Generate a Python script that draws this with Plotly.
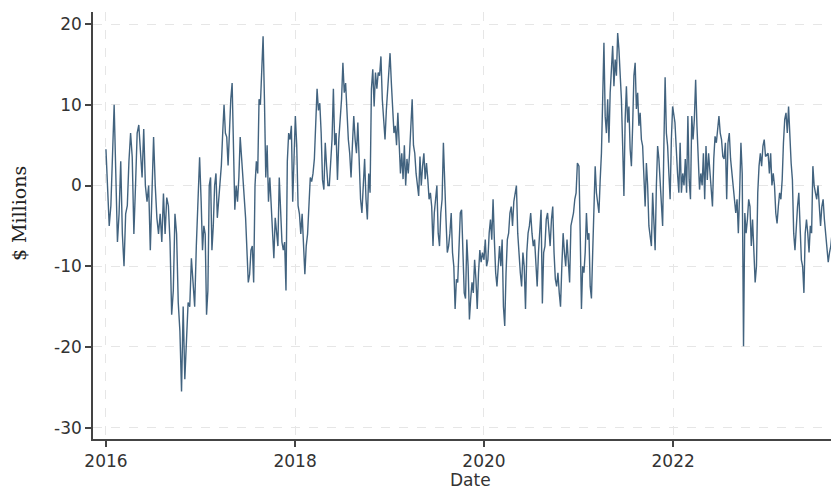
import plotly.graph_objects as go
import pandas as pd

# Values ($ Millions), one list per year
v2016 = [4.5, 0, -5, -2.5, 5, 10, 1.5, -7, -3.5, 3, -6, -10, -3.5, -2.5, 3, 6.5, 3.5, -6, 0, 6.5,
         7.5, 4.5, 1, 7, 0, -2, 0, -8, 1, 6, 0, -4, -6, -3.5, -7, -1, -6, -1.5, -2.5, -7,
         -16, -13, -3.5, -6, -14.5, -18, -25.5, -15, -24, -19, -14.5, -15, -9, -12, -15, -7.5, -1, 3.5]
v2017 = [-2, -8, -5, -6, -16, -13, 0, 1, -8, -5, 0, 1.5, -4, -2, 0, 2.5, 6.5, 10, 6.5, 6,
         2.5, 8, 10.7, 12.7, 5.7, -3, 0, -2, 1, 6, 3.5, 1, -2, -4, -8, -12, -11, -8, -7.5, -12,
         0, 3, 1.5, 10.7, 10, 15.6, 18.5, 10.7, 1, 5, -2, 1, -2, -6, -9, -4, -6, -7.5, 1, -3.5,
         -7, -8, -7, -13, 3, 6.5, 5.7, 7.4, -2, 3.5]
v2018 = [8.6, 5, -2.5, -3.5, -6, -3.5, -8, -11, -7.5, -6, -2.5, 1, 0.5, 1.5, 3.3, 7.4, 12, 9.3, 10.2, 6.5,
         0.7, -0.5, 5.3, 2.4, 0, 0, 3.3, 5.7, 12, 5, 6.5, 0.7, 5.7, 8.2, 10.7, 15.2, 11.5, 12.7, 9, 5.7,
         4, 1, 5, 8.6, 5.7, 4, 7.8, 3.2, -1.7, -3.4, 0, 3.3, -1.7, -4.2, 1.5, -0.9, 12, 14.4, 9.8, 14,
         12, 14, 13.6, 16, 10.7, 8.2, 5.7, 9.4, 12.3]
v2019 = [16.4, 12.7, 8.6, 6.5, 7.4, 5, 9, 5.7, 1.5, 4, 0.8, 5, 0, 3.3, 1.5, 4, 7.4, 10.7, 5, 4,
         1.5, 0, -1.3, 3.6, 0, 2.4, 4, 0.8, 2.8, 0.8, -1.7, -0.9, -2.6, -7.5, -3.4, -1.7, 0, -5.9, -7.5, -3.4,
         -1.7, 5.3, 1.5, -4.2, -8.3, -7.5, -5.9, -3.4, -8.3, -10, -15.3, -11.6, -12, -8.3, -3.4, -3, -8.3, -13.3, -14, -6.7,
         -10, -16.6, -14, -12, -13.3, -9.2, -11.6, -15.3, -10.8, -8, -9.5, -8.3]
v2020 = [-9.2, -6.7, -10, -9.2, -5.9, -4.2, -6.7, -1.7, -6.7, -10.8, -12.5, -9.2, -7.5, -10, -6.7, -15, -17.4, -10.8, -6.7, -5.9,
         -3.4, -2.6, -5, -2, -0.9, 0, -5.9, -9.2, -10.8, -12.5, -8.3, -10, -15.3, -8.3, -5.9, -5, -3.4, -5.9, -7.5, -6.7,
         -10, -12.5, -8.3, -5.9, -3, -14.6, -8.3, -7.5, -4.2, -3.4, -5.9, -7.5, -4.2, -2.6, -8.3, -11.6, -12.5, -10.8, -13.3, -15,
         -10, -5.9, -8.3, -10, -6.7, -9.2, -12, -5, -4.2, -3.4, -1.7, -0.9, 2.8]
v2021 = [2.4, -5.9, -15.3, -10, -10.8, -8.3, -3.4, -6.7, -5.9, -12.5, -14, -8.3, -3.4, 2.4, -0.9, -2.6, -3.4, 0.7, 4, 10.7,
         17.7, 8.6, 6.5, 10.7, 5.3, 11.5, 15.2, 17.3, 12.3, 15.6, 13.6, 18.9, 16.9, 14, 10.7, 4.9, -1.3, 8.2, 12.3, 7.8,
         9.8, 4.5, 2.4, 7.4, 13.6, 15.2, 9.5, 11.5, 7.4, 9, 5.7, 4.9, 0.7, -2.6, 2.8, 0, -5, -6.7, -7.5, -0.9,
         -5.9, -8, 0, 4.9, 3.3, 0, -3.4, -5, 4.9, 13.4, 6.5, 4.9, 1.5, -1.7, 5.7, 9.8]
v2022 = [7.8, 4, 1.5, -0.9, 5.3, -0.9, 1.5, 0, 3.3, -0.9, 8.6, 0.7, -1.7, 8.6, 5.7, 8.2, 13.1, 7.4, 2.4, -0.5,
         1.5, 0, 4, -1.7, 4.9, 0.7, 4, 2, 0, -2.6, 3.3, 6.1, 5.3, 7.4, 8.6, 6.5, 5.7, 3.6, 3.3, 5.3,
         -1.7, 5.3, 6.5, 3.3, 1.5, 0, -1.7, -3.4, -1.7, -5.9, -0.9, 5.3, 1.5, -19.9, -3.4, -5.9, -4.2, -1.7, -2.6, -7.5,
         -4.2, -8.3, -12, -10, -0.9, 2.4, 4, 2.4, 4.9, 5.7, 3.6]
v2023 = [4, 1.5, 4, 0, 1.5, 0, -3.4, -4.7, -2.6, -0.9, -1.7, 0.7, 5.3, 8.2, 9, 6.5, 9.8, 5.7, 2.8, 0.7,
         -5.9, -8, -5, -2.6, -0.9, -5, -9.2, -10, -13.3, -5.9, -4.2, -5.9, -8.3, -5, -5.9, 2.4, 0, -0.9, -1.7, 0,
         -3.4, -5, -2.6, -1.7, -4.2, -5.9, -7.5, -9.5, -8.3, -7.5, -5.9, -5, -6.7, -1.7, -1.7]

# (first date, last date, values) for each year's readings
segments = [
    ("2016-01-01", "2016-12-28", v2016),
    ("2017-01-03", "2017-12-28", v2017),
    ("2018-01-02", "2018-12-25", v2018),
    ("2019-01-03", "2019-12-26", v2019),
    ("2020-01-01", "2020-12-27", v2020),
    ("2021-01-02", "2021-12-30", v2021),
    ("2022-01-08", "2022-12-24", v2022),
    ("2023-01-03", "2023-09-27", v2023),
]

y_ticks = [-30, -20, -10, 0, 10, 20]
y_tick_labels = ["-30", "-20", "-10", "0", "10", "20"]
x_tick_dates = ["2016-01-01", "2018-01-01", "2020-01-01", "2022-01-01"]
x_tick_labels = ["2016", "2018", "2020", "2022"]

dates, values = [], []
for start, end, vals in segments:
    dates += list(pd.date_range(start, end, periods=len(vals)))
    values += vals

fig = go.Figure()
fig.add_trace(go.Scatter(
    x=dates, y=values, mode="lines",
    line=dict(color="rgba(50,86,116,0.92)", width=1.4),
    showlegend=False, hoverinfo="skip",
))

axis_font = dict(family="DejaVu Sans", size=17, color="#333333")
fig.update_layout(
    width=839, height=487,
    margin=dict(l=85, r=8, t=4, b=56),
    paper_bgcolor="white", plot_bgcolor="white",
    xaxis=dict(
        range=["2015-11-12", "2023-10-04"],
        tickvals=x_tick_dates, ticktext=x_tick_labels,
        ticks="outside", ticklen=6, tickcolor="#444444", tickwidth=1.5,
        showline=True, linecolor="#444444", linewidth=1.5,
        showgrid=True, gridcolor="#e6e6e6", griddash="dash", gridwidth=1,
        zeroline=False, tickfont=axis_font,
    ),
    yaxis=dict(
        range=[-31.4, 21.5],
        tickvals=y_ticks, ticktext=y_tick_labels,
        ticks="outside", ticklen=6, tickcolor="#444444", tickwidth=1.5,
        showline=True, linecolor="#444444", linewidth=1.5,
        showgrid=True, gridcolor="#e6e6e6", griddash="dash", gridwidth=1,
        zeroline=False, tickfont=axis_font,
    ),
    annotations=[
        dict(text="Date", xref="paper", yref="paper", x=0.506, y=-0.096,
             xanchor="center", yanchor="middle", showarrow=False,
             font=dict(family="DejaVu Sans", size=17, color="#333333")),
        dict(text="$ Millions", xref="paper", yref="paper", x=-0.099, y=0.527,
             xanchor="center", yanchor="middle", showarrow=False, textangle=-90,
             font=dict(family="DejaVu Serif", size=19, color="#222222")),
    ],
)

fig.write_html("out.html")
